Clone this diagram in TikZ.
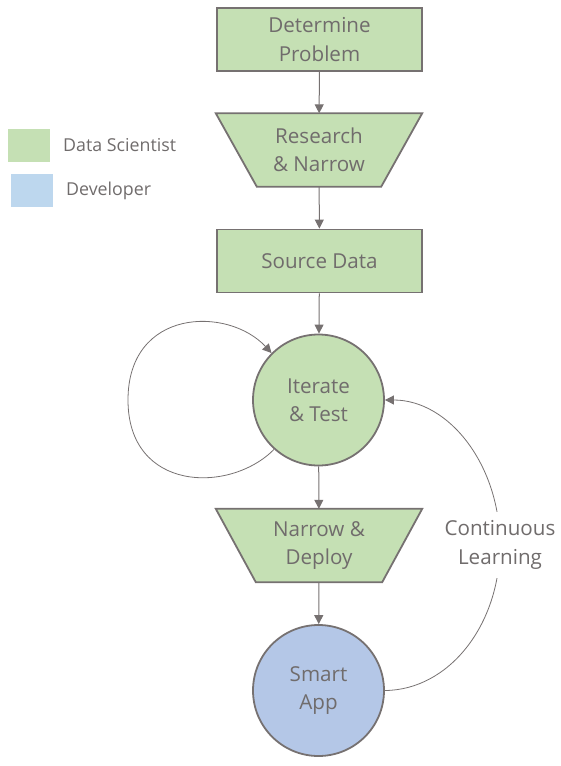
\documentclass[tikz,border=0pt]{standalone}
\usepackage{fontspec}
\setmainfont{Open Sans}
\usetikzlibrary{arrows.meta}
\definecolor{fgreen}{HTML}{C5E0B4}
\definecolor{fblue}{HTML}{B4C7E7}
\definecolor{lblue}{HTML}{BDD7EE}
\definecolor{gline}{HTML}{767171}
\definecolor{gtext}{HTML}{706C6C}
\newcommand{\mainfs}{\fontsize{20.6}{28.5}\selectfont}
\newcommand{\legfs}{\fontsize{17.8}{22}\selectfont}
\begin{document}
\begin{tikzpicture}[x=1pt,y=-1pt,
  txt/.style={text=gtext, align=center, font=\mainfs, inner sep=0pt},
  box/.style={txt, draw=gline, line width=1.8pt, fill=fgreen, minimum width=205pt, minimum height=63pt},
  trapbase/.style={minimum width=206pt, minimum height=73pt, inner sep=0pt},
  trapshape/.style={draw=gline, line width=1.8pt, fill=fgreen, line join=miter},
  circ/.style={txt, circle, draw=gline, line width=1.8pt, minimum size=131pt},
  conn/.style={draw=gline, line width=1pt, -{Triangle[length=9pt,width=9pt]}},
  loopc/.style={draw=gline, line width=0.8pt, -{Triangle[length=9pt,width=9pt]}},
  legbox/.style={minimum width=42pt, minimum height=33pt, inner sep=0pt},
  legtxt/.style={text=gtext, font=\legfs, inner sep=0pt, anchor=base west}
]
\useasboundingbox (0,0) rectangle (561,766);

% legend
\node[legbox, fill=fgreen] (lg) at (29,145.5) {};
\node[legtxt] (lgt) at (63,151) {Data Scientist};
\node[legbox, fill=lblue] (lb) at (32,190.5) {};
\node[legtxt] (lbt) at (66,195.5) {Developer};

% nodes
\node[box] (dp) at (319.5,39.5) {Determine\\Problem};

\node[trapbase] (rn) at (319,150) {};
\path[trapshape] (rn.north west) -- (rn.north east) -- ([xshift=-41pt]rn.south east) -- ([xshift=41pt]rn.south west) -- cycle;
\node[txt] (rnt) at (rn) {Research\\\& Narrow};

\node[box] (sd) at (319.5,261) {Source Data};

\node[circ, fill=fgreen] (it) at (318.5,400) {Iterate\\\& Test};

\node[trapbase] (nd) at (319,545.5) {};
\path[trapshape] (nd.north west) -- (nd.north east) -- ([xshift=-40pt]nd.south east) -- ([xshift=40pt]nd.south west) -- cycle;
\node[txt] (ndt) at (nd) {Narrow \&\\Deploy};

\node[circ, fill=fblue] (app) at (318.5,690.5) {Smart\\App};

% connectors
\draw[conn] (dp) -- (rn);
\draw[conn] (rn) -- (sd);
\draw[conn] (sd) -- (it);
\draw[conn] (it) -- (nd);
\draw[conn] (nd) -- (app);

\draw[loopc] (it.228) .. controls (230,494) and (128,492) .. (128,400)
  .. controls (128,308) and (228,306) .. (it.135);

\draw[loopc] (app.east) .. controls (449,690) and (500,625) .. (500,545)
  node[txt, fill=white, inner xsep=2pt, inner ysep=9pt] (cl) {Continuous\\Learning}
  .. controls (500,465) and (449,400) .. (it.east);
\end{tikzpicture}
\end{document}
